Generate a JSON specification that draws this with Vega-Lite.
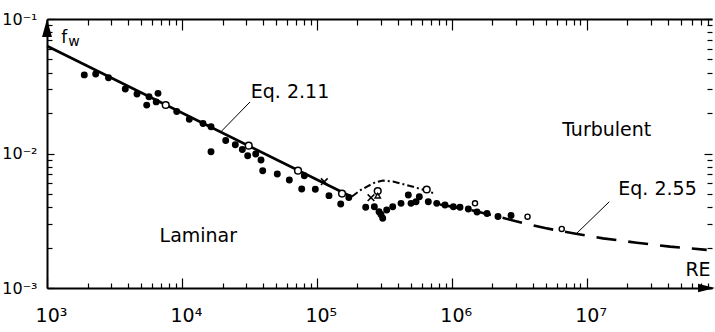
{
  "$schema": "https://vega.github.io/schema/vega-lite/v6.json",
  "autosize": {"type": "none"},
  "padding": {"left": 47, "top": 19, "right": 3, "bottom": 44},
  "width": 665,
  "height": 269,
  "background": "white",
  "config": {
    "view": {"stroke": null},
    "font": "DejaVu Sans",
    "axis": {"grid": false, "title": null, "labelFont": "DejaVu Sans", "labelColor": "black", "domainColor": "black", "tickColor": "black", "labelFlush": false, "labelOverlap": false, "tickWidth": 1.2, "domainWidth": 2}
  },
  "datasets": {
    "pts": [
      {"k": "filled", "re": 1890, "f": 0.0384},
      {"k": "filled", "re": 2296, "f": 0.039},
      {"k": "filled", "re": 2857, "f": 0.0366},
      {"k": "filled", "re": 3805, "f": 0.0302},
      {"k": "filled", "re": 4647, "f": 0.0277},
      {"k": "filled", "re": 5703, "f": 0.0264},
      {"k": "filled", "re": 6650, "f": 0.028},
      {"k": "filled", "re": 5484, "f": 0.0229},
      {"k": "filled", "re": 6449, "f": 0.0242},
      {"k": "filled", "re": 9152, "f": 0.0205},
      {"k": "filled", "re": 11346, "f": 0.018},
      {"k": "filled", "re": 14336, "f": 0.0167},
      {"k": "filled", "re": 16435, "f": 0.0158},
      {"k": "filled", "re": 16435, "f": 0.0103},
      {"k": "filled", "re": 21124, "f": 0.0125},
      {"k": "filled", "re": 24883, "f": 0.0116},
      {"k": "filled", "re": 28038, "f": 0.0107},
      {"k": "filled", "re": 30740, "f": 0.00963},
      {"k": "filled", "re": 35246, "f": 0.00992},
      {"k": "filled", "re": 38586, "f": 0.00895},
      {"k": "filled", "re": 39719, "f": 0.00745},
      {"k": "filled", "re": 50944, "f": 0.00704},
      {"k": "filled", "re": 62560, "f": 0.00635},
      {"k": "filled", "re": 80815, "f": 0.00684},
      {"k": "filled", "re": 77270, "f": 0.00545},
      {"k": "filled", "re": 97480, "f": 0.00542},
      {"k": "filled", "re": 123130, "f": 0.00486},
      {"k": "filled", "re": 150400, "f": 0.00421},
      {"k": "filled", "re": 172700, "f": 0.00471},
      {"k": "filled", "re": 230400, "f": 0.00398},
      {"k": "filled", "re": 266900, "f": 0.00402},
      {"k": "filled", "re": 289200, "f": 0.00369},
      {"k": "filled", "re": 299200, "f": 0.00352},
      {"k": "filled", "re": 307900, "f": 0.0033},
      {"k": "filled", "re": 329700, "f": 0.0038},
      {"k": "filled", "re": 365300, "f": 0.00402},
      {"k": "filled", "re": 420900, "f": 0.00426},
      {"k": "filled", "re": 476800, "f": 0.00491},
      {"k": "filled", "re": 499300, "f": 0.00426},
      {"k": "filled", "re": 543800, "f": 0.00438},
      {"k": "filled", "re": 575300, "f": 0.00477},
      {"k": "filled", "re": 670800, "f": 0.00438},
      {"k": "filled", "re": 774300, "f": 0.00426},
      {"k": "filled", "re": 891900, "f": 0.00414},
      {"k": "filled", "re": 1028000, "f": 0.00402},
      {"k": "filled", "re": 1152000, "f": 0.00398},
      {"k": "filled", "re": 1328000, "f": 0.00387},
      {"k": "filled", "re": 1540000, "f": 0.00367},
      {"k": "filled", "re": 1827000, "f": 0.00358},
      {"k": "filled", "re": 2204000, "f": 0.0034},
      {"k": "filled", "re": 2752000, "f": 0.00346},
      {"k": "open", "re": 7586, "f": 0.02294},
      {"k": "open", "re": 31270, "f": 0.01143},
      {"k": "open", "re": 72550, "f": 0.00745},
      {"k": "open", "re": 153800, "f": 0.00504},
      {"k": "open", "re": 282800, "f": 0.00526},
      {"k": "open", "re": 652600, "f": 0.0054},
      {"k": "small", "re": 1488000, "f": 0.00426},
      {"k": "small", "re": 3647000, "f": 0.00339},
      {"k": "small", "re": 6540000, "f": 0.00275},
      {"k": "cross", "re": 113650, "f": 0.00617},
      {"k": "cross", "re": 252200, "f": 0.00469},
      {"k": "tri", "re": 282800, "f": 0.00486}
    ],
    "lines": [
      {"s": "eq211", "re": 1000, "f": 0.063},
      {"s": "eq211", "re": 182400, "f": 0.00475},
      {"s": "dd", "re": 182400, "f": 0.00479},
      {"s": "dd", "re": 209000, "f": 0.00531},
      {"s": "dd", "re": 235600, "f": 0.00568},
      {"s": "dd", "re": 270100, "f": 0.00609},
      {"s": "dd", "re": 309600, "f": 0.0063},
      {"s": "dd", "re": 367200, "f": 0.00619},
      {"s": "dd", "re": 463800, "f": 0.00583},
      {"s": "dd", "re": 599100, "f": 0.00542},
      {"s": "dd", "re": 726700, "f": 0.00509},
      {"s": "eq255", "re": 819000, "f": 0.00418},
      {"s": "eq255", "re": 1488000, "f": 0.00374},
      {"s": "eq255", "re": 3100000, "f": 0.00311},
      {"s": "eq255", "re": 4917000, "f": 0.00279},
      {"s": "eq255", "re": 7930000, "f": 0.00255},
      {"s": "eq255", "re": 13230000, "f": 0.00234},
      {"s": "eq255", "re": 23520000, "f": 0.00217},
      {"s": "eq255", "re": 41520000, "f": 0.00203},
      {"s": "eq255", "re": 77700000, "f": 0.00192},
      {"s": "lead1", "re": 19720, "f": 0.0147},
      {"s": "lead1", "re": 31970, "f": 0.02415},
      {"s": "lead2", "re": 8445000, "f": 0.00255},
      {"s": "lead2", "re": 14730000, "f": 0.00438}
    ],
    "labels": [
      {"t": "Eq. 2.11", "re": 63270, "f": 0.02866},
      {"t": "Turbulent", "re": 14090000, "f": 0.01495},
      {"t": "Laminar", "re": 13230, "f": 0.002435},
      {"t": "Eq. 2.55", "re": 33540000, "f": 0.005445},
      {"t": "RE", "re": 66950000, "f": 0.001372}
    ],
    "sym": [
      {"t": "f", "re": 1341, "f": 0.07224},
      {"t": "w", "re": 1586, "f": 0.06688}
    ],
    "arrows": [
      {"a": "y", "re": 1000, "f": 0.0857},
      {"a": "x", "re": 77430000, "f": 0.001}
    ]
  },
  "encoding": {
    "x": {"field": "re", "type": "quantitative", "scale": {"type": "log", "domain": [1000, 85000000], "nice": false, "zero": false}, "axis": null},
    "y": {"field": "f", "type": "quantitative", "scale": {"type": "log", "domain": [0.001, 0.1], "nice": false, "zero": false}, "axis": null}
  },
  "layer": [
    {
      "data": {"name": "lines"},
      "transform": [{"filter": "datum.s == 'eq211'"}],
      "mark": {"type": "line", "color": "black", "strokeWidth": 2.6},
      "encoding": {
        "x": {"field": "re", "type": "quantitative", "scale": {"type": "log", "domain": [1000, 85000000], "nice": false, "zero": false},
          "axis": {"orient": "bottom", "values": [1000, 10000, 100000, 1000000, 10000000], "tickSize": -10, "labelPadding": 28, "labelFontSize": 19, "labelBaseline": "top", "labelOffset": 4,
            "labelExpr": "['10³','10⁴','10⁵','10⁶','10⁷'][round(log(datum.value)/LN10)-3]"}},
        "y": {"field": "f", "type": "quantitative", "scale": {"type": "log", "domain": [0.001, 0.1], "nice": false, "zero": false},
          "axis": {"orient": "left", "values": [0.001, 0.01, 0.1], "tickSize": -7, "labelPadding": 17, "labelFontSize": 16, "labelBaseline": "middle",
            "labelExpr": "['10⁻¹','10⁻²','10⁻³'][round(-log(datum.value)/LN10)-1]"}}
      }
    },
    {
      "data": {"name": "lines"},
      "transform": [{"filter": "datum.s == 'dd'"}],
      "mark": {"type": "line", "color": "black", "strokeWidth": 2, "strokeDash": [7, 3, 2, 3]},
      "encoding": {
        "x": {"field": "re", "type": "quantitative", "scale": {"type": "log", "domain": [1000, 85000000], "nice": false, "zero": false},
          "axis": {"orient": "bottom", "values": [2000, 3000, 4000, 5000, 6000, 7000, 8000, 9000, 20000, 30000, 40000, 50000, 60000, 70000, 80000, 90000, 200000, 300000, 400000, 500000, 600000, 700000, 800000, 900000, 2000000, 3000000, 4000000, 5000000, 6000000, 7000000, 8000000, 9000000, 20000000, 30000000, 40000000, 50000000, 60000000, 70000000, 80000000], "tickSize": -5, "labels": false, "domain": false}},
        "y": {"field": "f", "type": "quantitative", "scale": {"type": "log", "domain": [0.001, 0.1], "nice": false, "zero": false},
          "axis": {"orient": "left", "values": [0.002, 0.003, 0.004, 0.005, 0.006, 0.007, 0.008, 0.009, 0.02, 0.03, 0.04, 0.05, 0.06, 0.07, 0.08, 0.09], "tickSize": -5, "labels": false, "domain": false}}
      }
    },
    {
      "data": {"name": "lines"},
      "transform": [{"filter": "datum.s == 'eq255'"}],
      "mark": {"type": "line", "color": "black", "strokeWidth": 2.6, "strokeDash": [20, 12]},
      "encoding": {
        "x": {"field": "re", "type": "quantitative", "scale": {"type": "log", "domain": [1000, 85000000], "nice": false, "zero": false},
          "axis": {"orient": "top", "values": [1000, 10000, 100000, 1000000, 10000000], "tickSize": -11, "labels": false}},
        "y": {"field": "f", "type": "quantitative", "scale": {"type": "log", "domain": [0.001, 0.1], "nice": false, "zero": false},
          "axis": {"orient": "right", "values": [0.001, 0.01, 0.1], "tickSize": -8, "labels": false, "domain": false}}
      }
    },
    {
      "data": {"name": "lines"},
      "transform": [{"filter": "datum.s == 'lead1' || datum.s == 'lead2'"}],
      "mark": {"type": "line", "color": "black", "strokeWidth": 1},
      "encoding": {
        "detail": {"field": "s"},
        "x": {"field": "re", "type": "quantitative", "scale": {"type": "log", "domain": [1000, 85000000], "nice": false, "zero": false},
          "axis": {"orient": "top", "values": [2000, 3000, 4000, 5000, 6000, 7000, 8000, 9000, 20000, 30000, 40000, 50000, 60000, 70000, 80000, 90000, 200000, 300000, 400000, 500000, 600000, 700000, 800000, 900000, 2000000, 3000000, 4000000, 5000000, 6000000, 7000000, 8000000, 9000000, 20000000, 30000000, 40000000, 50000000, 60000000, 70000000, 80000000], "tickSize": -6, "labels": false, "domain": false}},
        "y": {"field": "f", "type": "quantitative", "scale": {"type": "log", "domain": [0.001, 0.1], "nice": false, "zero": false},
          "axis": {"orient": "right", "values": [0.002, 0.003, 0.004, 0.005, 0.006, 0.007, 0.008, 0.009, 0.02, 0.03, 0.04, 0.05, 0.06, 0.07, 0.08, 0.09], "tickSize": -5, "labels": false, "domain": false}}
      }
    },
    {
      "data": {"name": "pts"},
      "transform": [{"filter": "datum.k == 'filled'"}],
      "mark": {"type": "point", "shape": "circle", "filled": true, "color": "black", "opacity": 1, "size": 48}
    },
    {
      "data": {"name": "pts"},
      "transform": [{"filter": "datum.k == 'open'"}],
      "mark": {"type": "point", "shape": "circle", "fill": "white", "stroke": "black", "strokeWidth": 1.5, "opacity": 1, "size": 45}
    },
    {
      "data": {"name": "pts"},
      "transform": [{"filter": "datum.k == 'small'"}],
      "mark": {"type": "point", "shape": "circle", "fill": "white", "stroke": "black", "strokeWidth": 1.4, "opacity": 1, "size": 26}
    },
    {
      "data": {"name": "pts"},
      "transform": [{"filter": "datum.k == 'cross'"}],
      "mark": {"type": "point", "shape": "M-1,-1L1,1M-1,1L1,-1", "filled": false, "stroke": "black", "strokeWidth": 1.5, "opacity": 1, "size": 45}
    },
    {
      "data": {"name": "pts"},
      "transform": [{"filter": "datum.k == 'tri'"}],
      "mark": {"type": "point", "shape": "triangle-up", "fill": "white", "stroke": "black", "strokeWidth": 1.4, "opacity": 1, "size": 30}
    },
    {
      "data": {"name": "labels"},
      "mark": {"type": "text", "font": "DejaVu Sans", "fontSize": 19, "color": "black", "align": "center", "baseline": "middle"},
      "encoding": {"text": {"field": "t"}}
    },
    {
      "data": {"name": "sym"},
      "transform": [{"filter": "datum.t == 'f'"}],
      "mark": {"type": "text", "font": "DejaVu Sans", "fontSize": 17, "color": "black", "align": "center", "baseline": "middle"},
      "encoding": {"text": {"field": "t"}}
    },
    {
      "data": {"name": "sym"},
      "transform": [{"filter": "datum.t == 'w'"}],
      "mark": {"type": "text", "font": "DejaVu Sans", "fontSize": 14, "color": "black", "align": "center", "baseline": "middle"},
      "encoding": {"text": {"field": "t"}}
    },
    {
      "data": {"name": "arrows"},
      "transform": [{"filter": "datum.a == 'y'"}],
      "mark": {"type": "point", "shape": "M0,-1L0.55,1L-0.55,1Z", "filled": true, "color": "black", "opacity": 1, "size": 324}
    },
    {
      "data": {"name": "arrows"},
      "transform": [{"filter": "datum.a == 'x'"}],
      "mark": {"type": "point", "shape": "M1,0L-1,0.5L-1,-0.5Z", "filled": true, "color": "black", "opacity": 1, "size": 289}
    }
  ],
  "resolve": {"axis": {"x": "independent", "y": "independent"}}
}
